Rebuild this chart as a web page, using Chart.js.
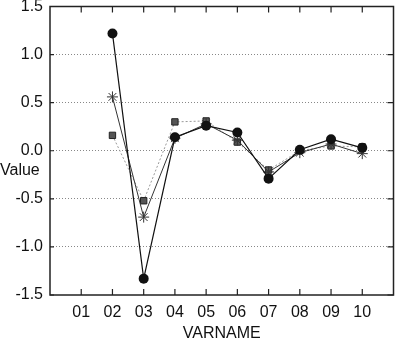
<!DOCTYPE html>
<html lang="en">
<head>
    <meta charset="UTF-8">
    <title>Value by VARNAME</title>
    <script src="https://cdn.jsdelivr.net/npm/chart.js"></script>
    <style>
        html, body { margin: 0; padding: 0; background: #fff; }
        #wrap { width: 400px; height: 340px; }
    </style>
</head>
<body>
    <div id="wrap"><canvas id="valueChart" width="400" height="340"></canvas></div>

    <script>
        // categories along the x axis
        const categories = ['01', '02', '03', '04', '05', '06', '07', '08', '09', '10'];

        // three series, one value per category (01 has no data)
        const circleValues   = [null, 1.22, -1.33, 0.14, 0.26, 0.19, -0.29, 0.01, 0.12, 0.03];
        const asteriskValues = [null, 0.56, -0.69, 0.13, 0.28, 0.11, -0.22, -0.02, 0.07, -0.03];
        const squareValues   = [null, 0.16, -0.52, 0.30, 0.31, 0.09, -0.20, 0.00, 0.05, 0.04];

        // y axis ticks
        const yTicks = [-1.5, -1.0, -0.5, 0.0, 0.5, 1.0, 1.5];

        // blank slot at each end so 01 and 10 sit one step inside the frame
        const labels = [''].concat(categories, ['']);
        const pad = vals => [null].concat(vals, [null]);

        const fontFamily = '"Liberation Sans", Arial, Helvetica, sans-serif';

        // box around the plot with short inward tick marks, plus the flat "Value" label
        const framePlugin = {
            id: 'frame',
            afterDraw(chart) {
                const ctx = chart.ctx;
                const a = chart.chartArea;
                const x = chart.scales.x;
                const y = chart.scales.y;
                ctx.save();
                ctx.strokeStyle = '#222';
                ctx.lineWidth = 1.5;
                ctx.strokeRect(a.left, a.top, a.right - a.left, a.bottom - a.top);

                ctx.lineWidth = 1.2;
                ctx.beginPath();
                categories.forEach((c, i) => {
                    const px = x.getPixelForValue(i + 1);
                    ctx.moveTo(px, a.bottom); ctx.lineTo(px, a.bottom - 6);
                    ctx.moveTo(px, a.top); ctx.lineTo(px, a.top + 6);
                });
                yTicks.forEach(v => {
                    const py = y.getPixelForValue(v);
                    ctx.moveTo(a.left, py); ctx.lineTo(a.left + 4, py);
                    ctx.moveTo(a.right, py); ctx.lineTo(a.right - 6, py);
                });
                ctx.stroke();

                ctx.fillStyle = '#111';
                ctx.font = '16px ' + fontFamily;
                ctx.textAlign = 'left';
                ctx.textBaseline = 'alphabetic';
                ctx.fillText('Value', 0, 175);
                ctx.restore();
            }
        };

        const ctx = document.getElementById('valueChart').getContext('2d');
        new Chart(ctx, {
            type: 'line',
            data: {
                labels: labels,
                datasets: [{
                    label: 'circles',
                    data: pad(circleValues),
                    borderColor: '#111',
                    backgroundColor: '#111',
                    borderWidth: 1.2,
                    pointStyle: 'circle',
                    pointRadius: 5,
                    pointBorderWidth: 0
                }, {
                    label: 'asterisks',
                    data: pad(asteriskValues),
                    borderColor: '#333',
                    backgroundColor: '#333',
                    borderWidth: 1,
                    pointStyle: 'star',
                    pointRadius: 5.5,
                    pointBorderWidth: 1
                }, {
                    label: 'squares',
                    data: pad(squareValues),
                    borderColor: '#999',
                    backgroundColor: '#555',
                    borderWidth: 1,
                    borderDash: [2, 2],
                    pointStyle: 'rect',
                    pointRadius: 4.5,
                    pointBorderColor: '#222',
                    pointBorderWidth: 1
                }]
            },
            options: {
                responsive: false,
                animation: false,
                spanGaps: false,
                layout: { padding: { top: 6, right: 2, left: 0, bottom: 0 } },
                plugins: {
                    legend: { display: false },
                    tooltip: { enabled: false }
                },
                scales: {
                    x: {
                        type: 'category',
                        offset: false,
                        border: { display: false },
                        grid: { display: false, drawTicks: false },
                        ticks: {
                            autoSkip: false,
                            maxRotation: 0,
                            padding: 8,
                            color: '#111',
                            font: { family: fontFamily, size: 16 }
                        },
                        title: {
                            display: true,
                            text: 'VARNAME',
                            color: '#111',
                            padding: { top: 0, bottom: -3 },
                            font: { family: fontFamily, size: 16 }
                        },
                        afterFit: scale => {
                            scale.height = 45;
                            scale.paddingLeft = 0;
                            scale.paddingRight = 0;
                        }
                    },
                    y: {
                        min: yTicks[0],
                        max: yTicks[yTicks.length - 1],
                        // dotted horizontal gridlines
                        border: { display: false, dash: [1, 2] },
                        grid: {
                            drawTicks: false,
                            color: c => (Math.abs(c.tick.value) >= 1.5 ? 'rgba(0,0,0,0)' : '#888'),
                            lineWidth: 1
                        },
                        ticks: {
                            stepSize: 0.5,
                            padding: 7,
                            color: '#111',
                            font: { family: fontFamily, size: 16 },
                            callback: v => v.toFixed(1)
                        },
                        afterFit: scale => {
                            scale.width = 50;
                            scale.paddingTop = 0;
                            scale.paddingBottom = 0;
                        }
                    }
                }
            },
            plugins: [framePlugin]
        });
    </script>
</body>
</html>
